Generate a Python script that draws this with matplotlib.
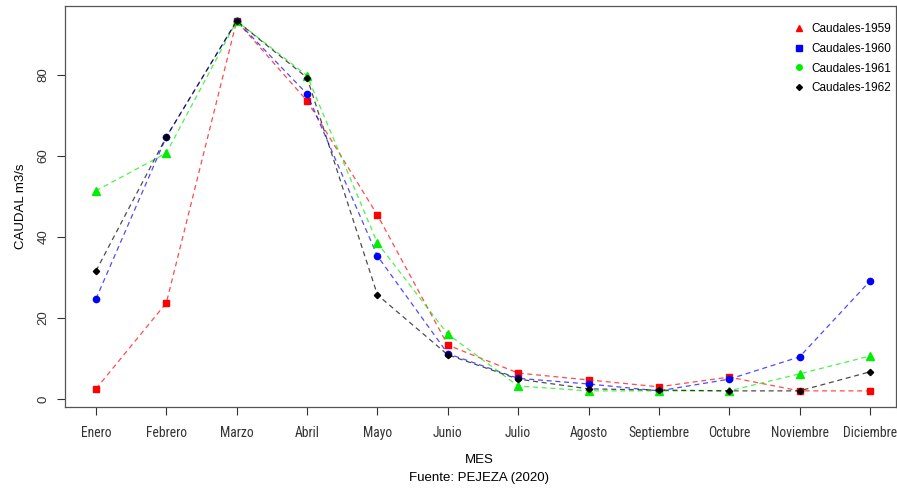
import matplotlib
matplotlib.use("Agg")
import matplotlib.pyplot as plt
from matplotlib.lines import Line2D
from matplotlib import font_manager

# data
meses = ["Enero", "Febrero", "Marzo", "Abril", "Mayo", "Junio", "Julio",
         "Agosto", "Septiembre", "Octubre", "Noviembre", "Diciembre"]
q1959 = [2.5, 23.7, 93.3, 73.6, 45.4, 13.3, 6.4, 4.7, 3.0, 5.4, 2.0, 2.0]
q1960 = [24.7, 64.7, 93.3, 75.3, 35.3, 11.2, 5.1, 3.7, 2.0, 4.9, 10.4, 29.1]
q1961 = [51.4, 60.7, 93.3, 79.8, 38.5, 16.0, 3.2, 2.0, 2.0, 2.0, 6.2, 10.6]
q1962 = [31.6, 64.7, 93.3, 79.3, 25.7, 10.9, 4.9, 2.5, 2.2, 2.0, 2.0, 6.7]

names = set(f.name for f in font_manager.fontManager.ttflist)
narrow = None
for cand in ["Liberation Sans Narrow", "Roboto Condensed", "Open Sans Condensed"]:
    if cand in names:
        narrow = cand
        break
plt.rcParams['font.family'] = ["Liberation Sans", "DejaVu Sans"]
if narrow:
    tick_font = dict(family=[narrow, "DejaVu Sans"], fontsize=9.8)
else:
    tick_font = dict(family=["Liberation Sans", "DejaVu Sans"], fontsize=8.5)

fig = plt.figure(figsize=(8.97, 4.91), dpi=100)
ax = fig.add_axes([65/897, (491-407)/491, (896-65)/897, (407-6)/491])

x = list(range(1, 13))
series = [(q1959, "red", "s", 4.2), (q1960, "blue", "o", 4.5),
          (q1961, "#00ee00", "^", 5.2), (q1962, "black", "D", 3.2)]
for q, c, m, s in series:
    ax.plot(x, q, ls=(0, (4, 3)), lw=0.9, color=c, alpha=0.7)
    ax.plot(x, q, ls="none", marker=m, ms=s, color=c)

ax.set_xlim(0.56, 12.37)
ax.set_ylim(-1.98, 97.0)
ax.set_xticks(x)
ax.set_xticklabels(meses, **tick_font)
ax.set_yticks([0, 20, 40, 60, 80])
ax.set_yticklabels(["0", "20", "40", "60", "80"], rotation=90, va="center", fontsize=9.5)
ax.tick_params(direction="out", length=6, width=0.8, colors="#333333", pad=8)
ax.tick_params(axis="y", pad=5)
for sp in ax.spines.values():
    sp.set_color("#555555")
    sp.set_linewidth(0.9)

ax.set_ylabel("CAUDAL m3/s", fontsize=9.5, labelpad=8)
fig.text(479/897, 1-460/491, "MES", ha="center", va="center", fontsize=9.5)
fig.text(479/897, 1-478/491, "Fuente: PEJEZA (2020)", ha="center", va="center", fontsize=9.5)

# legend (markers as in the original R legend)
handles = [Line2D([], [], ls="none", marker="^", ms=4, color="red"),
           Line2D([], [], ls="none", marker="s", ms=3.8, color="blue"),
           Line2D([], [], ls="none", marker="o", ms=4, color="#00ee00"),
           Line2D([], [], ls="none", marker="D", ms=3, color="black")]
labels = ["Caudales-1959", "Caudales-1960", "Caudales-1961", "Caudales-1962"]
ax.legend(handles, labels, frameon=False, loc="upper left",
          bbox_to_anchor=(0.878, 0.9576), borderaxespad=0, borderpad=0,
          fontsize=8.5, handlelength=0.8, handletextpad=0.65, labelspacing=0.66)

fig.savefig("out.png", dpi=100)
